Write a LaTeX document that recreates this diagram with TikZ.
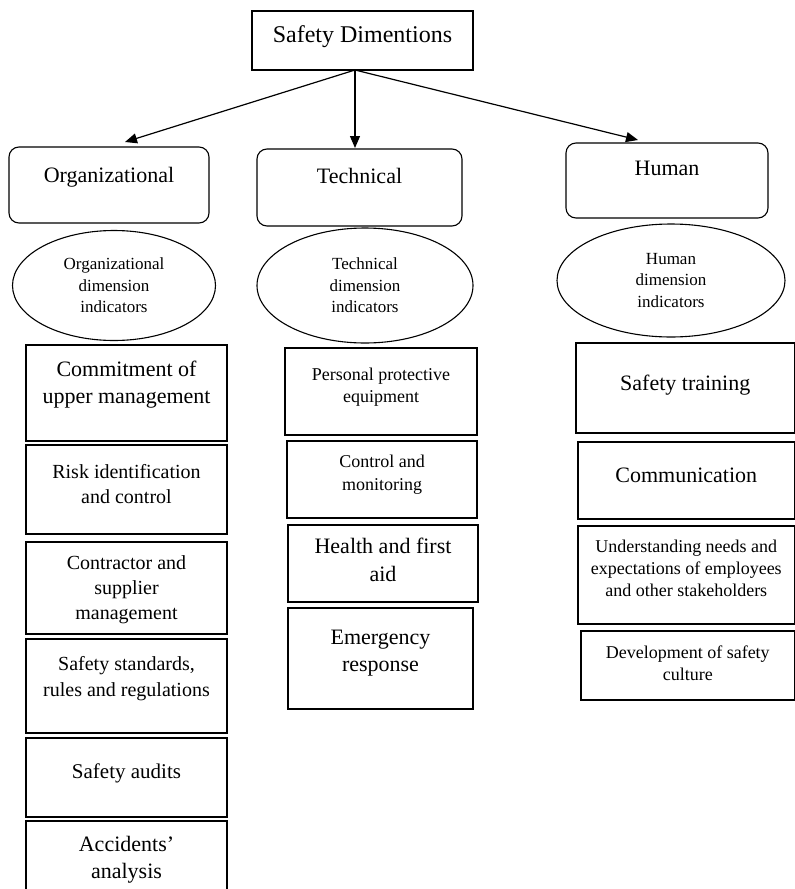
\documentclass[tikz,border=0pt]{standalone}
\usepackage{fontspec}
\setmainfont{Liberation Serif}
\usetikzlibrary{arrows.meta,shapes.geometric}
\newcommand\fsz[2]{\fontsize{#1}{#2}\selectfont}
% #1 width, #2 height, #3 top pad, #4 text
\newcommand\bxt[4]{\parbox[c][#2][t]{#1}{\centering\vspace*{#3}#4\par}}
\begin{document}
\begin{tikzpicture}[x=1pt,y=-1pt,
  sq/.style={draw=black,line width=1.1pt,inner sep=0pt,outer sep=0pt,anchor=north west},
  rsq/.style={sq,rounded corners=10pt},
  ell/.style={draw=black,line width=1.1pt,ellipse,inner sep=0pt,align=center,font=\fsz{17}{21.5}},
  arr/.style={line width=1.2pt,-{Triangle[length=12pt,width=10pt]}}]
\useasboundingbox (0,0) rectangle (795,889);
% top
\node[sq] (T) at (252,11) {\bxt{221pt}{59pt}{15pt}{\fsz{24}{28}Safety Dimentions}};
% categories
\node[rsq] (O) at (9,147) {\bxt{200pt}{76pt}{20pt}{\fsz{22}{27}Organizational}};
\node[rsq] (Tc) at (257,149) {\bxt{205pt}{77pt}{19.5pt}{\fsz{22}{27}Technical}};
\node[rsq] (H) at (566,143) {\bxt{202pt}{75pt}{18.5pt}{\fsz{22}{27}Human}};
% arrows
\coordinate (o) at (355,70);
\coordinate (eL) at (125,142);
\coordinate (eM) at (355,148);
\coordinate (eR) at (638,140);
\draw[arr] (o) -- (eL);
\draw[arr] (o) -- (eM);
\draw[arr] (o) -- (eR);
% ellipses
\node[ell,minimum width=203pt,minimum height=110pt] (E1) at (114,285.5) {Organizational\\dimension\\indicators};
\node[ell,minimum width=216pt,minimum height=115pt] (E2) at (365,285.5) {Technical\\dimension\\indicators};
\node[ell,minimum width=228pt,minimum height=113pt] (E3) at (671,280.5) {Human\\dimension\\indicators};
% organizational column
\node[sq] (C1) at (26,345) {\bxt{201pt}{96pt}{16pt}{\fsz{22}{27}Commitment of\\upper management}};
\node[sq] (C2) at (26,445) {\bxt{201pt}{89pt}{19pt}{\fsz{20}{25}Risk identification\\and control}};
\node[sq] (C3) at (26,542) {\bxt{201pt}{92pt}{14pt}{\fsz{20}{25}Contractor and\\supplier\\management}};
\node[sq] (C4) at (26,639) {\bxt{201pt}{94pt}{17pt}{\fsz{20}{26}Safety standards,\\rules and regulations}};
\node[sq] (C5) at (26,738) {\bxt{201pt}{79pt}{26pt}{\fsz{21}{26}Safety audits}};
\node[sq] (C6) at (26,821) {\bxt{201pt}{75pt}{15.5pt}{\fsz{22}{27}Accidents’\\analysis}};
% technical column
\node[sq] (P1) at (285,348) {\bxt{192pt}{87pt}{20pt}{\fsz{18}{22}Personal protective\\equipment}};
\node[sq] (P2) at (287,441) {\bxt{190pt}{77pt}{14pt}{\fsz{18}{23}Control and\\monitoring}};
\node[sq] (P3) at (288,525) {\bxt{190pt}{77pt}{13.5pt}{\fsz{22}{28}Health and first\\aid}};
\node[sq] (P4) at (288,608) {\bxt{185pt}{101pt}{22.5pt}{\fsz{22}{27}Emergency\\response}};
% human column
\node[sq] (U1) at (576,343) {\bxt{218.5pt}{90pt}{32.5pt}{\fsz{22}{27}Safety training}};
\node[sq] (U2) at (578,442) {\bxt{216.5pt}{77pt}{25.5pt}{\fsz{22}{27}Communication}};
\node[sq] (U3) at (578,526) {\bxt{216.5pt}{98pt}{14pt}{\fsz{18}{22}Understanding needs and\\expectations of employees\\and other stakeholders}};
\node[sq] (U4) at (581,631) {\bxt{213.5pt}{69pt}{15pt}{\fsz{18}{22}Development of safety\\culture}};
\end{tikzpicture}
\end{document}
